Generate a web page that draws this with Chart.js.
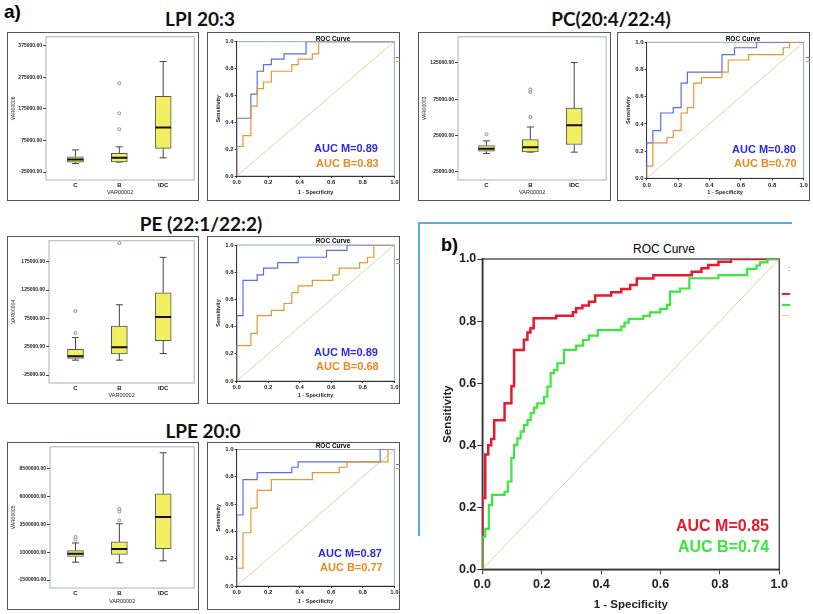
<!DOCTYPE html>
<html lang="en">
<head>
<meta charset="UTF-8">
<title>Lipid markers - boxplots and ROC curves</title>
<script src="https://cdn.jsdelivr.net/npm/chart.js"></script>
<style>
    body { margin: 0; background: #fff; font-family: "Liberation Sans", Arial, sans-serif; }
    #page { position: relative; width: 813px; height: 614px; overflow: hidden; }
    canvas { position: absolute; }
    .frame { position: absolute; border: 1.5px solid #555; box-sizing: border-box; }
    .title { position: absolute; transform: translate(-50%, -50%); white-space: nowrap;
             font-family: Lato, "Open Sans", sans-serif; font-weight: bold; font-size: 19px; color: #111; }
    .lbl { position: absolute; transform: translateY(-50%); white-space: nowrap; font-weight: bold; }
    .ctr { position: absolute; transform: translate(-50%, -50%); white-space: nowrap; }
    .dash { position: absolute; height: 2px; }
</style>
</head>
<body>
<div id="page">
    <div class="lbl" style="left:4px;top:12px;font-size:19px">a)</div>
    <div class="title" style="left:200px;top:18px">LPI 20:3</div>
    <div class="title" style="left:611px;top:18px">PC(20:4/22:4)</div>
    <div class="title" style="left:201px;top:223px">PE (22:1/22:2)</div>
    <div class="title" style="left:203px;top:430px">LPE 20:0</div>

    <div class="frame" style="left:7px;top:32px;width:192px;height:169px"></div>
    <div class="frame" style="left:207px;top:32px;width:193px;height:169px"></div>
    <div class="frame" style="left:418px;top:32px;width:193px;height:169px"></div>
    <div class="frame" style="left:617px;top:32px;width:193px;height:169px"></div>
    <div class="frame" style="left:7px;top:236px;width:192px;height:168px"></div>
    <div class="frame" style="left:207px;top:236px;width:193px;height:168px"></div>
    <div class="frame" style="left:7px;top:442px;width:192px;height:168px"></div>
    <div class="frame" style="left:207px;top:442px;width:193px;height:168px"></div>

    <canvas id="box1" width="192" height="169" style="left:7px;top:32px"></canvas>
    <canvas id="roc1" width="193" height="169" style="left:207px;top:32px"></canvas>
    <canvas id="box2" width="193" height="169" style="left:418px;top:32px"></canvas>
    <canvas id="roc2" width="193" height="169" style="left:617px;top:32px"></canvas>
    <canvas id="box3" width="192" height="168" style="left:7px;top:236px"></canvas>
    <canvas id="roc3" width="193" height="168" style="left:207px;top:236px"></canvas>
    <canvas id="box4" width="192" height="168" style="left:7px;top:442px"></canvas>
    <canvas id="roc4" width="193" height="168" style="left:207px;top:442px"></canvas>

    <div class="ctr" style="left:333px;top:37.5px;font-size:6.5px;font-weight:bold">ROC Curve</div>
    <div class="ctr" style="left:743px;top:37.5px;font-size:6.5px;font-weight:bold">ROC Curve</div>
    <div class="ctr" style="left:333px;top:240px;font-size:6.5px;font-weight:bold">ROC Curve</div>
    <div class="ctr" style="left:333px;top:444.5px;font-size:6.5px;font-weight:bold">ROC Curve</div>

    <div class="lbl" style="left:314px;top:148px;font-size:11px;color:#2a2ae6">AUC M=0.89</div>
    <div class="lbl" style="left:316px;top:163px;font-size:11px;color:#e88a24">AUC B=0.83</div>
    <div class="lbl" style="left:732px;top:149px;font-size:11px;color:#2a2ae6">AUC M=0.80</div>
    <div class="lbl" style="left:734px;top:163px;font-size:11px;color:#e88a24">AUC B=0.70</div>
    <div class="lbl" style="left:314px;top:352px;font-size:11px;color:#2a2ae6">AUC M=0.89</div>
    <div class="lbl" style="left:316px;top:366px;font-size:11px;color:#e88a24">AUC B=0.68</div>
    <div class="lbl" style="left:318px;top:553px;font-size:11px;color:#2a2ae6">AUC M=0.87</div>
    <div class="lbl" style="left:320px;top:567px;font-size:11px;color:#e88a24">AUC B=0.77</div>

    <div class="dash" style="left:396px;top:57px;width:4px;height:1px;background:#5a6cf0"></div>
    <div class="dash" style="left:396px;top:61px;width:4px;height:1px;background:#e8962e"></div>
    <div class="dash" style="left:806px;top:57px;width:4px;height:1px;background:#5a6cf0"></div>
    <div class="dash" style="left:806px;top:61px;width:4px;height:1px;background:#e8962e"></div>
    <div class="dash" style="left:396px;top:259px;width:4px;height:1px;background:#5a6cf0"></div>
    <div class="dash" style="left:396px;top:263px;width:4px;height:1px;background:#e8962e"></div>
    <div class="dash" style="left:396px;top:464px;width:4px;height:1px;background:#5a6cf0"></div>
    <div class="dash" style="left:396px;top:468px;width:4px;height:1px;background:#e8962e"></div>

    <!-- panel b -->
    <div style="position:absolute;left:418px;top:222px;width:374px;height:2px;background:#5aaae6"></div>
    <div style="position:absolute;left:418px;top:222px;width:2px;height:314px;background:#5aaae6"></div>
    <div class="lbl" style="left:441px;top:245px;font-size:18px">b)</div>
    <div class="ctr" style="left:664px;top:249px;font-size:12px">ROC Curve</div>
    <canvas id="rocAll" width="380" height="379" style="left:420px;top:235px"></canvas>
    <div class="lbl" style="left:676px;top:526px;font-size:16px;color:#e8192c">AUC M=0.85</div>
    <div class="lbl" style="left:678px;top:547px;font-size:16px;color:#3ce63c">AUC B=0.74</div>
    <div class="dash" style="left:782px;top:293px;width:8px;background:#e8192c"></div>
    <div class="dash" style="left:782px;top:304px;width:8px;background:#3ce63c"></div>
    <div class="dash" style="left:782px;top:315px;width:8px;height:1px;background:#d8d9a0"></div>
    <div class="ctr" style="left:789px;top:268px;font-size:8px;color:#335">:</div>
</div>

<script>
    const groups = ['C', 'B', 'IDC'];

    // [min, q1, median, q3, max] for C, B, IDC
    const lpiBox = [
        [2000, 6000, 15000, 23000, 45000],
        [6500, 7400, 20000, 33900, 54700],
        [20000, 49700, 115800, 214400, 324600]
    ];
    const lpiOut = [[], [110400, 160800, 256300], []];
    const lpiTicks = [-25000, 75000, 175000, 275000, 375000];

    const pcBox = [
        [200, 3400, 6600, 11100, 17500],
        [2000, 2400, 8900, 19400, 36700],
        [2000, 12500, 39000, 62800, 125500]
    ];
    const pcOut = [[26700], [50500, 84800, 88400], []];
    const pcTicks = [-25000, 25000, 75000, 125000];

    const peBox = [
        [1300, 4200, 8300, 20600, 41100],
        [1300, 12400, 24100, 61500, 99000],
        [13000, 35800, 77300, 120000, 182600]
    ];
    const peOut = [[49300, 87900], [207700], []];
    const peTicks = [-25000, 25000, 75000, 125000, 175000];

    const lpeBox = [
        [102000, 607000, 844000, 1141000, 1823000],
        [43000, 785000, 1289000, 1912000, 3544000],
        [221000, 1319000, 4138000, 6215000, 9895000]
    ];
    const lpeOut = [[2120000, 2357000], [3841000, 4642000, 4880000], []];
    const lpeTicks = [-1500000, 1000000, 3500000, 6000000, 8500000];

    // ROC points [1 - specificity, sensitivity], M = malignant, B = benign
    const lpiRocM = [[0,0],[0,0.43],[0.09,0.61],[0.13,0.78],[0.17,0.83],[0.22,0.87],[0.30,0.91],[0.44,1],[1,1]];
    const lpiRocB = [[0,0],[0,0.22],[0.04,0.30],[0.09,0.52],[0.13,0.65],[0.17,0.70],[0.22,0.78],[0.35,0.83],[0.39,0.87],[0.48,0.91],[0.52,1],[1,1]];
    const pcRocM = [[0,0],[0,0.26],[0.04,0.35],[0.09,0.48],[0.17,0.52],[0.22,0.70],[0.26,0.78],[0.48,0.91],[0.56,0.96],[0.70,1],[1,1]];
    const pcRocB = [[0,0],[0,0.09],[0.04,0.26],[0.13,0.30],[0.17,0.35],[0.22,0.48],[0.26,0.52],[0.30,0.70],[0.35,0.74],[0.48,0.78],[0.52,0.87],[0.65,0.91],[0.87,0.96],[0.91,1],[1,1]];
    const peRocM = [[0,0],[0,0.48],[0.04,0.74],[0.13,0.78],[0.17,0.83],[0.26,0.87],[0.39,0.91],[0.57,0.96],[0.70,1],[1,1]];
    const peRocB = [[0,0],[0,0.26],[0.09,0.35],[0.13,0.48],[0.22,0.52],[0.30,0.57],[0.35,0.65],[0.39,0.70],[0.48,0.74],[0.61,0.78],[0.65,0.83],[0.78,0.87],[0.83,0.91],[0.87,1],[1,1]];
    const lpeRocM = [[0,0],[0,0.52],[0.04,0.78],[0.13,0.83],[0.35,0.87],[0.39,0.91],[0.91,1],[1,1]];
    const lpeRocB = [[0,0],[0,0.13],[0.04,0.39],[0.09,0.57],[0.13,0.70],[0.22,0.78],[0.48,0.83],[0.65,0.87],[0.70,0.91],[0.96,1],[1,1]];

    const allRocM = [[0,0],[0,0.23],[0.01,0.37],[0.02,0.40],[0.03,0.42],[0.04,0.48],[0.075,0.535],[0.098,0.59],[0.107,0.707],
        [0.14,0.74],[0.152,0.763],[0.162,0.777],[0.173,0.809],[0.249,0.817],[0.305,0.828],[0.316,0.841],[0.337,0.85],
        [0.359,0.862],[0.38,0.882],[0.434,0.893],[0.468,0.903],[0.498,0.916],[0.52,0.937],[0.576,0.948],[0.705,0.959],
        [0.738,0.97],[0.761,0.981],[0.795,0.991],[0.837,1],[1,1]];
    const allRocB = [[0,0],[0,0.105],[0.01,0.13],[0.022,0.207],[0.033,0.24],[0.075,0.25],[0.086,0.283],[0.098,0.358],
        [0.107,0.40],[0.118,0.422],[0.129,0.444],[0.14,0.465],[0.152,0.481],[0.163,0.503],[0.174,0.521],[0.185,0.535],
        [0.208,0.556],[0.219,0.589],[0.23,0.632],[0.241,0.642],[0.253,0.664],[0.275,0.707],[0.316,0.721],[0.339,0.739],
        [0.359,0.753],[0.389,0.771],[0.468,0.782],[0.479,0.795],[0.493,0.807],[0.542,0.817],[0.565,0.828],[0.599,0.839],
        [0.622,0.852],[0.632,0.895],[0.666,0.905],[0.697,0.938],[0.795,0.948],[0.892,0.968],[0.923,0.979],[0.935,0.989],
        [0.96,1],[1,1]];
    const diagonal = [[0,0],[1,1]];

    Chart.defaults.font.family = '"Liberation Sans", Arial, sans-serif';
    Chart.defaults.color = '#222';
    Chart.defaults.animation = false;
    Chart.defaults.plugins.legend.display = false;
    Chart.defaults.plugins.tooltip.enabled = false;

    // box round the plot area, drawn before the axes so their lines sit on top
    Chart.register({
        id: 'frame',
        beforeDraw(chart, args, opts) {
            if (!opts.color) return;
            const a = chart.chartArea, ctx = chart.ctx;
            ctx.save();
            ctx.strokeStyle = opts.color;
            ctx.lineWidth = opts.width || 1;
            ctx.strokeRect(a.left, a.top, a.right - a.left, a.bottom - a.top);
            ctx.restore();
        }
    });

    const xy = pts => pts.map(p => ({ x: p[0], y: p[1] }));

    function boxChart(id, area, range, ticks, box, out, yTitle) {
        const cv = document.getElementById(id);
        const w = cv.width, h = cv.height;
        const step = 44.7;
        const whisk = [], meds = [], outs = [];
        box.forEach((b, i) => {
            const c = i + 1;
            whisk.push({x: c, y: b[0]}, {x: c, y: b[1]}, {x: c, y: null},
                       {x: c, y: b[3]}, {x: c, y: b[4]}, {x: c, y: null},
                       {x: c - 0.08, y: b[0]}, {x: c + 0.08, y: b[0]}, {x: c, y: null},
                       {x: c - 0.08, y: b[4]}, {x: c + 0.08, y: b[4]}, {x: c, y: null});
            meds.push({x: c - 0.18, y: b[2]}, {x: c + 0.18, y: b[2]}, {x: c, y: null});
            out[i].forEach(v => outs.push({x: c, y: v}));
        });
        new Chart(cv, {
            type: 'bar',
            data: {
                datasets: [
                    { type: 'bar', data: box.map((b, i) => ({x: i + 1, y: [b[1], b[3]]})),
                      backgroundColor: '#f2ee62', borderColor: '#555', borderWidth: 1,
                      borderSkipped: false, barThickness: 16, order: 2 },
                    { type: 'line', data: whisk, borderColor: '#444', borderWidth: 1,
                      pointRadius: 0, spanGaps: false, order: 3 },
                    { type: 'line', data: meds, borderColor: '#111', borderWidth: 2,
                      pointRadius: 0, spanGaps: false, order: 1 },
                    { type: 'scatter', data: outs, pointRadius: 1.5, borderWidth: 0.8,
                      borderColor: '#777', backgroundColor: '#fff', order: 0 }
                ]
            },
            options: {
                responsive: false,
                layout: { padding: { left: 0, top: area.t, right: w - area.r, bottom: 0 } },
                plugins: { frame: { color: '#a9b1ba', width: 1 } },
                scales: {
                    x: {
                        type: 'linear', offset: false,
                        min: 1 - (69 - area.l) / step,
                        max: 3 + (area.r - 158.4) / step,
                        afterFit: s => { s.height = h - area.b; },
                        afterBuildTicks: s => { s.ticks = groups.map((g, i) => ({ value: i + 1 })); },
                        ticks: { callback: v => groups[v - 1], font: { size: 6, weight: 'bold' },
                                 padding: 2, autoSkip: false, maxRotation: 0 },
                        grid: { display: false, drawTicks: false, offset: false },
                        border: { display: false },
                        title: { display: true, text: 'VAR00002', font: { size: 5.5 }, padding: { bottom: 5 } }
                    },
                    y: {
                        type: 'linear', min: range[0], max: range[1],
                        afterFit: s => { s.width = area.l; },
                        afterBuildTicks: s => { s.ticks = ticks.map(v => ({ value: v })); },
                        ticks: { callback: v => v.toFixed(2), font: { size: 5, weight: 'bold' }, padding: 1 },
                        grid: { drawOnChartArea: false, tickLength: 3, color: '#444' },
                        border: { display: false },
                        title: { display: true, text: yTitle, font: { size: 5 }, padding: { top: 4 } }
                    }
                }
            }
        });
    }

    function rocChart(id, area, m, b, big) {
        const cv = document.getElementById(id);
        const w = cv.width, h = cv.height;
        const tickFont = { size: big ? 12.5 : 6, weight: 'bold' };
        const titleFont = { size: big ? 11.5 : 5.5, weight: 'bold' };
        const axis = {
            type: 'linear', min: 0, max: 1,
            ticks: { stepSize: 0.2, callback: v => v.toFixed(1), font: tickFont, autoSkip: false, maxRotation: 0 },
            grid: { drawOnChartArea: false, tickLength: big ? 5 : 2, color: '#333' },
            border: { color: '#333', width: big ? 1.5 : 1 }
        };
        new Chart(cv, {
            type: 'line',
            data: {
                datasets: [
                    { data: xy(diagonal), borderColor: '#d8d9a0', borderWidth: 1, pointRadius: 0, order: 3 },
                    { data: xy(m), borderColor: big ? '#e8192c' : '#5a6cf0', borderWidth: big ? 2.5 : 1.2,
                      stepped: 'before', pointRadius: 0, order: 2 },
                    { data: xy(b), borderColor: big ? '#3ce63c' : '#e8962e', borderWidth: big ? 2.2 : 1.2,
                      stepped: 'before', pointRadius: 0, order: 1 }
                ]
            },
            options: {
                responsive: false,
                layout: { padding: { left: 0, top: area.t, right: w - area.r, bottom: 0 } },
                plugins: { frame: { color: big ? '#555' : '#9aa3ad', width: big ? 1.5 : 1 } },
                scales: {
                    x: Object.assign({}, axis, {
                        afterFit: s => { s.height = h - area.b; },
                        ticks: Object.assign({}, axis.ticks, { padding: big ? 3 : 1 }),
                        title: { display: true, text: '1 - Specificity', font: titleFont,
                                 padding: { bottom: big ? 2 : 5 } }
                    }),
                    y: Object.assign({}, axis, {
                        afterFit: s => { s.width = area.l; },
                        ticks: Object.assign({}, axis.ticks, { padding: 1 }),
                        title: { display: true, text: 'Sensitivity', font: titleFont,
                                 padding: { top: big ? 21 : 8 } }
                    })
                }
            }
        });
    }

    boxChart('box1', { l: 39, t: 4, r: 190, b: 148 }, [-50200, 403000], lpiTicks, lpiBox, lpiOut, 'VAR00006');
    boxChart('box2', { l: 40, t: 4, r: 191, b: 148 }, [-36400, 161000], pcTicks, pcBox, pcOut, 'VAR00003');
    boxChart('box3', { l: 42, t: 4, r: 190, b: 147 }, [-39000, 211800], peTicks, peBox, peOut, 'VAR00004');
    boxChart('box4', { l: 43, t: 4, r: 190, b: 146 }, [-2212000, 10432000], lpeTicks, lpeBox, lpeOut, 'VAR00005');

    rocChart('roc1', { l: 29.7, t: 9.7, r: 187.3, b: 144 }, lpiRocM, lpiRocB, false);
    rocChart('roc2', { l: 29.6, t: 10.3, r: 186.6, b: 146.3 }, pcRocM, pcRocB, false);
    rocChart('roc3', { l: 29.7, t: 9, r: 187.3, b: 145 }, peRocM, peRocB, false);
    rocChart('roc4', { l: 29.7, t: 7.5, r: 187.3, b: 144 }, lpeRocM, lpeRocB, false);
    rocChart('rocAll', { l: 62.3, t: 24, r: 359.3, b: 334.3 }, allRocM, allRocB, true);
</script>
</body>
</html>
